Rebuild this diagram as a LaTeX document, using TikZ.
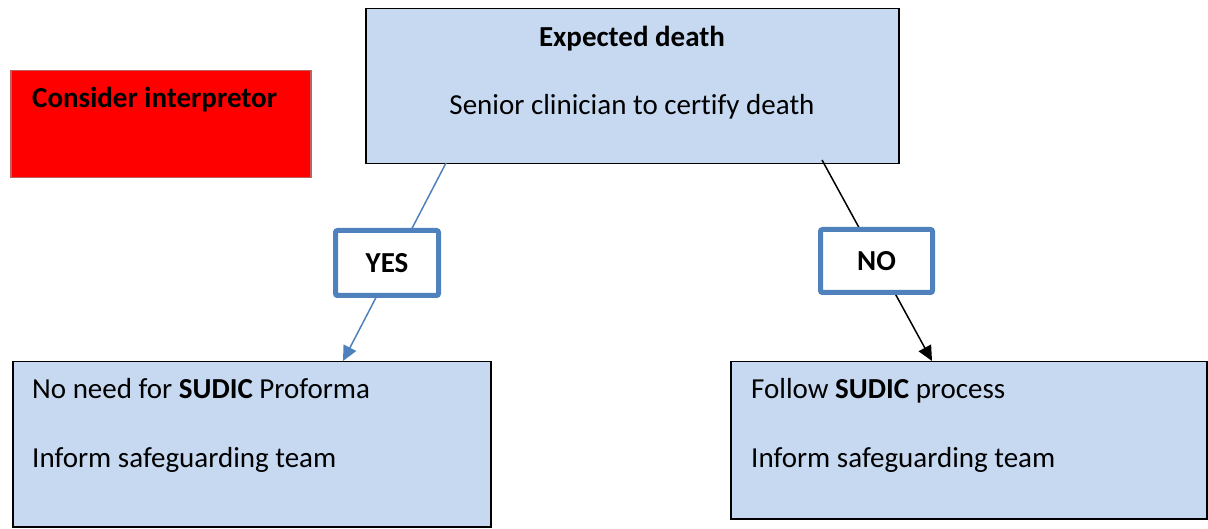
\documentclass[tikz,border=0pt]{standalone}
\usepackage{fontspec}
\setmainfont[Ligatures={NoCommon}]{Carlito}
\usetikzlibrary{arrows.meta}
\definecolor{boxblue}{HTML}{C6D9F1}
\definecolor{strokeblue}{HTML}{4F81BD}
\definecolor{redfill}{HTML}{FF0000}
\definecolor{redline}{HTML}{C0605C}
\begin{document}
\begin{tikzpicture}[x=1pt,y=-1pt,
  bluebox/.style={draw=black,line width=1.5pt,fill=boxblue,anchor=north west,inner sep=0pt},
  redbox/.style={draw=redline,line width=1.5pt,fill=redfill,anchor=north west,inner sep=0pt},
  labelbox/.style={draw=strokeblue,line width=5pt,fill=white,rounded corners=2pt,inner sep=0pt,font=\bfseries},
  txt/.style={anchor=base west,inner sep=0pt},
  ctxt/.style={anchor=base,inner sep=0pt},
  yesline/.style={draw=strokeblue,line width=1.5pt,-{Triangle[length=15pt,width=14pt]}},
  noline/.style={draw=black,line width=1.5pt,-{Triangle[length=15pt,width=14pt]}},
  every node/.style={font=\fontsize{29}{35}\selectfont}]
\useasboundingbox (0,0) rectangle (1208,529);
% boxes
\node[bluebox,minimum width=533pt,minimum height=155pt] (top) at (365,8) {};
\node[redbox,minimum width=300pt,minimum height=107pt] (red) at (10,70) {};
\node[bluebox,minimum width=478pt,minimum height=165pt] (bl) at (12,361) {};
\node[bluebox,minimum width=476pt,minimum height=157pt] (br) at (730,361) {};
% texts
\node[ctxt,font=\fontsize{29}{35}\selectfont\bfseries] (t1) at (632,47) {Expected death};
\node[ctxt] (t2) at (632,115) {Senior clinician to certify death};
\node[txt,font=\fontsize{29}{35}\selectfont\bfseries] (r1) at (32,108) {Consider interpretor};
\node[txt] (l1) at (32,399) {No need for \textbf{SUDIC} Proforma};
\node[txt] (l2) at (32,467) {Inform safeguarding team};
\node[txt] (b1) at (751,399) {Follow \textbf{SUDIC} process};
\node[txt] (b2) at (751,467) {Inform safeguarding team};
% connector end points
\coordinate (ys) at (446,163);
\coordinate (ye) at (343,361);
\coordinate (ns) at (822,160);
\coordinate (ne) at (932,361);
\draw[yesline] (ys) -- (ye);
\draw[noline] (ns) -- (ne);
% label boxes
\node[labelbox,minimum width=103pt,minimum height=65pt,font=\fontsize{29}{35}\selectfont\bfseries] (yes) at (387,263) {YES};
\node[labelbox,minimum width=112pt,minimum height=63pt,font=\fontsize{29}{35}\selectfont\bfseries] (no) at (876.5,261) {NO};
\end{tikzpicture}
\end{document}
